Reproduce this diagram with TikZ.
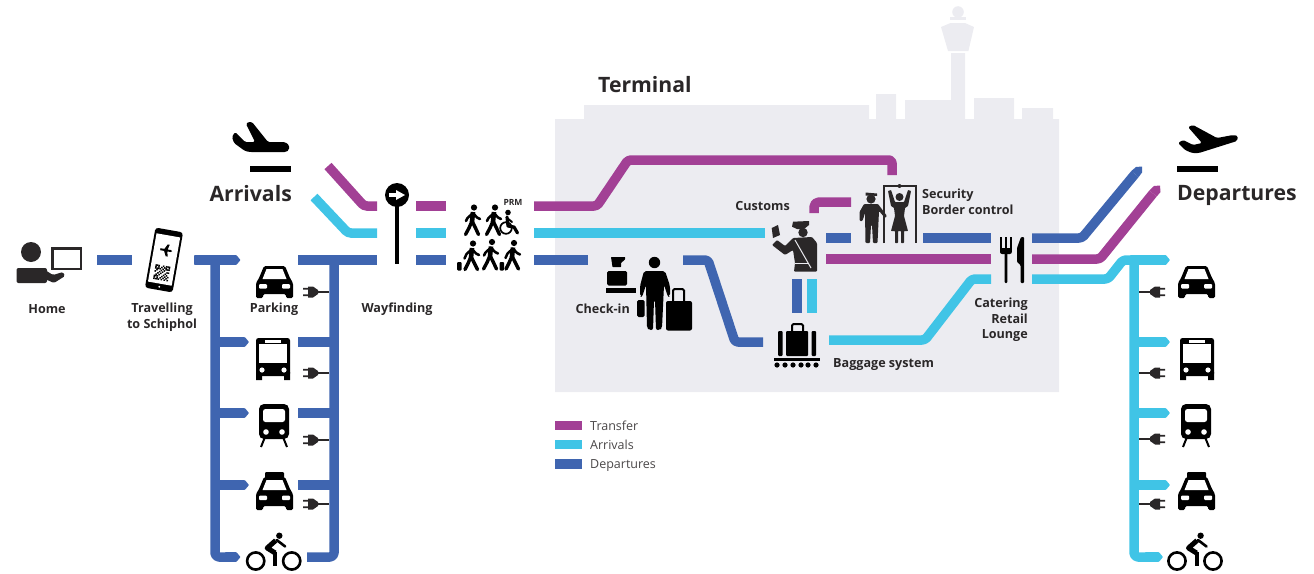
\documentclass[tikz,border=0pt]{standalone}
\usepackage{fontspec}
\setmainfont{Open Sans}
\usetikzlibrary{calc}
\definecolor{cpurple}{HTML}{A24095}
\definecolor{ccyan}{HTML}{40C4E6}
\definecolor{cblue}{HTML}{3F65B0}
\definecolor{cgray}{HTML}{ECECF1}
\definecolor{ctext}{HTML}{2A2728}
\tikzset{
  route/.style={line width=9.5pt,line join=round,rounded corners=3pt},
  pr/.style={route,cpurple}, cy/.style={route,ccyan}, bl/.style={route,cblue},
  lab/.style={font=\bfseries\fontsize{12.6}{15.5}\selectfont,text=ctext,inner sep=0pt,align=center,yshift=-1pt},
  head/.style={font=\bfseries\fontsize{21.2}{26}\selectfont,text=ctext,inner sep=0pt},
  leg/.style={font=\fontsize{12.5}{15}\selectfont,text=ctext!85,inner sep=0pt,anchor=base west},
  limb/.style={line width=3.4pt,line cap=round,line join=round,black},
  pics/car/.style={code={
    \fill[black,rounded corners=1.5pt] (8,0)--(29,0)--(34,12)--(37,17)--(37,32)--(30,32)--(30,28)--(7,28)--(7,32)--(0,32)--(0,17)--(3,12)--cycle;
    \fill[white] (10.5,3)--(26.5,3)--(30.5,13)--(6.5,13)--cycle;
    \fill[white,rounded corners=1pt] (3,18) rectangle (11,22.5) (26,18) rectangle (34,22.5);
  }},
  pics/taxi/.style={code={
    \fill[black,rounded corners=1pt] (9,0) rectangle (28,7);
    \fill[black,rounded corners=1.5pt] (8,5)--(29,5)--(34,17)--(37,22)--(37,38)--(30,38)--(30,34)--(7,34)--(7,38)--(0,38)--(0,22)--(3,17)--cycle;
    \fill[white] (10.5,8)--(26.5,8)--(30.5,18)--(6.5,18)--cycle;
    \fill[white,rounded corners=1pt] (3,23.5) rectangle (11,28) (26,23.5) rectangle (34,28);
  }},
  pics/bus/.style={code={
    \fill[black,rounded corners=2.5pt] (0,0) rectangle (34,38);
    \fill[black] (0,34) rectangle (6,42) (28,34) rectangle (34,42);
    \fill[white] (3,6) rectangle (31,25);
    \fill[white] (9,2) rectangle (25,5);
    \fill[white] (6,32) circle (2.6) (28,32) circle (2.6);
  }},
  pics/tram/.style={code={
    \draw[line width=2pt,black] (6,33)--(2,43) (24,33)--(28,43);
    \fill[black,rounded corners=5pt] (0,0) rectangle (30,35);
    \fill[white,rounded corners=2.5pt] (4,5) rectangle (26,18);
    \fill[white] (7,28) circle (2.8) (23,28) circle (2.8);
  }},
  pics/bike/.style={code={
    \draw[line width=2.6pt,black] (0,0) circle (8.6) (36,0) circle (8.6);
    \fill[black] (23.6,-25.3) circle (3.2);
    \draw[limb,line width=5pt,line cap=butt] (20,-20.5)--(11.5,-13)--(19.5,-8);
    \draw[limb,line width=4pt,line cap=butt] (19.5,-9)--(19.5,5);
    \draw[limb,line width=2.6pt] (21,-21)--(29.5,-14.5);
  }},
  pics/plug/.style={code={
    \draw[line width=2.6pt,ctext] (0,0)--(-14,0);
    \fill[ctext] (-11,-2)--(-16,-5.5)--(-21,-5.5)--(-21,5.5)--(-16,5.5)--(-11,2)--cycle;
    \fill[ctext] (-26,-4.2) rectangle (-20,-2.4) (-26,2.4) rectangle (-20,4.2);
  }},
  pics/walker/.style={code={
    \fill[black] (2,-15.5) circle (3.1);
    \draw[limb,line width=4.6pt,line cap=butt] (1,-11)--(0,-1);
    \draw[limb] (0,-2)--(-3,5)--(-6.5,11.5) (0,-2)--(3.5,5)--(6.5,11.5);
    \draw[limb,line width=2.5pt] (1,-10)--(-4.5,-5)--(-6,-2) (1,-10)--(5,-5.5)--(8,-4);
  }},
  pics/roller/.style={code={
    \fill[black] (2,-14) circle (3.1);
    \draw[limb,line width=4.6pt,line cap=butt] (1,-9.5)--(0,0);
    \draw[limb] (0,-1)--(-3,6)--(-6,12) (0,-1)--(3.5,6)--(6.5,12);
    \draw[limb,line width=2.5pt] (1,-8.5)--(-4.5,-3.5)--(-6.5,1) (1,-8.5)--(5,-4)--(8,-2.5);
  }},
}
\newcommand{\branch}[5]{\fill[#4,rounded corners=.6pt] (#1,#3-4.8)--(#2-4,#3-4.8)--(#2,#3)--(#2-4,#3+4.8)--(#1,#3+4.8)--cycle;}
\begin{document}
\begin{tikzpicture}[x=1pt,y=-1pt]
\useasboundingbox (0,0) rectangle (1314,573);
% terminal
\fill[cgray] (555,119)--(584,119)--(584,105)--(869,105)--(869,119)--(876,119)--(876,94)--(896,94)--(896,119)--(905,119)--(905,100)--(951,100)--(951,53)--(965,53)--(965,119)--(974,119)--(974,98)--(1014,98)--(1014,119)--(1022,119)--(1022,108)--(1053,108)--(1053,119)--(1059,119)--(1059,392)--(555,392)--cycle;
\fill[cgray] (941,27)--(950.5,23)--(965,23)--(974,27)--(968.4,51)--(948,51)--cycle;
\fill[cgray] (950,17) rectangle (966,20);
\fill[cgray] (958,12) circle (5.8);
\node[head,anchor=base west] (terminal) at (598,92.5) {Terminal};

% left section
\node[lab] (home) at (47,308) {Home};
\node[lab] (travel) at (162,316) {Travelling\\to Schiphol};
\node[lab] (parking) at (274,308) {Parking};
\node[lab] (wayf) at (397,308) {Wayfinding};
\draw[bl] (97,260)--(132,260);
% home icon
\fill[ctext] (31,252) circle (10);
\fill[ctext,rounded corners=2pt] (16.5,268) rectangle (47,283);
\fill[ctext,rounded corners=1.5pt] (45,270)--(53,275)--(63,272)--(65,276)--(54,283)--(45,279)--cycle;
\draw[ctext,line width=2.8pt] (52.4,248.4) rectangle (81,269);
% phone
\begin{scope}[shift={(164,260)},rotate=-10]
\fill[black,rounded corners=3pt] (-14,-30.5) rectangle (14,30.5);
\fill[white] (-12,-25) rectangle (12,24);
\fill[white] (0,27.2) circle (1);
\fill[black] (-5.5,-11)--(-1.5,-11)--(1,-16)--(3,-16)--(1.8,-11)--(5,-11)--(6.5,-10)--(5,-9)--(1.8,-9)--(3,-4)--(1,-4)--(-1.5,-9)--(-5.5,-9)--cycle;
\foreach \i/\j in {0/0,1/0,2/0,4/1,5/0,7/0,8/0,9/0,0/1,2/1,3/2,6/1,7/1,9/1,0/2,1/2,2/2,5/2,7/2,8/2,9/2,1/3,4/3,6/3,8/4,0/4,3/4,5/4,9/4,2/5,4/5,7/5,1/6,3/6,6/6,8/6,0/7,1/7,2/7,5/7,7/7,9/7,0/8,2/8,4/8,6/8,8/8,0/9,1/9,2/9,3/9,5/9,7/9,9/9}
  \fill[black] ({-7.5+1.5*\i},{5.5+1.5*\j}) rectangle ++(1.5,1.5);
\end{scope}

% left vertical 1
\branch{194}{240.5}{260}{cblue}{}
\draw[bl,rounded corners=4pt] (215,258)--(215,557)--(230,557);
\branch{215}{249}{342}{cblue}{}
\branch{215}{249}{413}{cblue}{}
\branch{215}{249}{485}{cblue}{}
\branch{225}{240.5}{557}{cblue}{}
% left vertical 2
\draw[bl,rounded corners=0pt] (298,260)--(377,260);
\draw[bl,rounded corners=4pt] (334,258)--(334,557)--(307,557);
\draw[bl,rounded corners=0pt] (298,342)--(334,342) (298,413)--(334,413) (298,485)--(334,485);
\foreach \y in {292,373,440,504} \pic at (329,\y) {plug};
\pic at (256,266) {car};
\pic at (256,338) {bus};
\pic at (259,404) {tram};
\pic at (256,472) {taxi};
\pic at (255.7,561) {bike};

% arrivals
\fill[black,rounded corners=1.5pt] (289,145)--(289,150)--(286,152)--(250,152)--(245,151)--(234,143)--(232,137)--(235,132)--(245,142)--(255,142)--(246,124)--(248,122)--(252,122)--(268,142)--(285,142)--cycle;
\fill[black] (250,166) rectangle (291,172);
\node[head,anchor=base east] (arrivals) at (292,201) {Arrivals};
\draw[pr,line join=miter] (328,166)--(364,206)--(377,206);
\draw[cy,line join=miter] (314,197)--(348,233)--(377,233);
% wayfinding
\draw[line width=3.5pt,black] (397,195)--(397,264);
\fill[black] (397,195) circle (12);
\fill[white] (389,193) rectangle (397,197);
\fill[white] (396,190)--(405,195)--(396,200)--cycle;
% segments
\draw[pr,rounded corners=0pt] (416,206)--(446,206);
\draw[cy,rounded corners=0pt] (416,233)--(446,233);
\draw[bl,rounded corners=0pt] (416,260)--(446,260);
% people
\pic at (472,223) {walker};
\pic at (493,223) {walker};
\node[font=\bfseries\fontsize{8.5}{10}\selectfont,text=ctext,inner sep=0pt] (prm) at (513,202) {PRM};
\fill[black] (508,212.5) circle (2.8);
\draw[line width=1.7pt,black] (506,228) circle (5.8);
\draw[limb,line width=3.2pt] (507,217)--(508,226)--(514,227)--(517.5,233);
\draw[limb,line width=2pt] (507,218)--(512,222);
\pic at (471,257.5) {roller};
\pic at (490,257.5) {walker};
\pic at (512,257) {roller};
\fill[black,rounded corners=1pt] (457,262) rectangle (461.5,270.5);
\fill[black,rounded corners=1pt] (499.5,262) rectangle (504,270.5);

% terminal routes
\draw[pr] (534,206)--(597,206)--(628,160)--(892,160)--(892,175);
\draw[cy,rounded corners=0pt] (534,233)--(765,233);
\draw[bl,rounded corners=0pt] (534,260)--(588,260);
\draw[bl] (683,260)--(708,260)--(735,342)--(763,342);
% check-in
\node[lab,anchor=east] (checkin) at (630,308) {Check-in};
\fill[black,rounded corners=.5pt] (611,257)--(625,257)--(625,259.5)--(621,263)--(621,267)--(612.5,267)--cycle;
\fill[black,rounded corners=1.5pt] (607,271) rectangle (627,285.5);
\fill[black] (606,288) rectangle (636,293);
\fill[black] (654.5,262.5) circle (5.7);
\fill[black,rounded corners=2pt] (644,271)--(665,271)--(670,286)--(670,296)--(668,297)--(664,285)--(662,328)--(660,330)--(656,330)--(655,300)--(654,300)--(653,330)--(649,330)--(647,328)--(646,285)--(642,297)--(640,296)--(640,286)--cycle;
\fill[black,rounded corners=1.5pt] (637,300) rectangle (644.5,317);
\fill[black,rounded corners=2pt] (666,301) rectangle (692,330.5);
\draw[black,line width=2pt,rounded corners=1.5pt] (673,301)--(673,289)--(684,289)--(684,301);

% customs
\node[lab,anchor=east] (customs) at (790,205) {Customs};
\fill[ctext] (771.7,228)--(778,225)--(780,235)--(773,238)--cycle;
\fill[ctext] (793,221.7)--(809,221)--(809,225)--(804,229)--(797,229)--(792,226.7)--cycle;
\fill[ctext] (803,232.5) circle (4.7);
\fill[ctext,rounded corners=1pt] (772,245)--(777,240)--(785,246)--(793,238)--(812,237)--(817,243)--(817,271.7)--(794,271.7)--(795,263)--(793,250)--(785,255)--cycle;
\draw[cgray,line width=1pt] (795,240)--(811,268);
\draw[cgray,line width=1pt] (794.5,263.5)--(808,263.5);
% customs routes
\draw[pr,rounded corners=5pt] (814,213)--(814,202)--(851,202);
\draw[bl,rounded corners=0pt] (826,238)--(851,238);
\draw[bl,rounded corners=0pt] (923,238)--(991,238);
\draw[pr,rounded corners=0pt] (826,259)--(991,259);
\draw[bl,rounded corners=0pt] (797,279)--(797,313);
\draw[cy,rounded corners=0pt] (812,279)--(812,313);
\draw[cy] (829,340)--(925,340)--(972,279)--(991,279);

% security
\fill[ctext] (871,199) circle (4.6);
\fill[ctext] (865.5,192.5)--(877,193.5)--(877,196)--(871,195.5)--(865.5,195.5)--cycle;
\fill[ctext,rounded corners=1pt] (864,204)--(878,204)--(887,216)--(885,218)--(879,211)--(877.5,243)--(873,243)--(872,225)--(871,225)--(870,243)--(865.5,243)--(865,213)--(862.5,221)--(859.5,221)--(859.5,212)--cycle;
\draw[ctext,line width=2.4pt] (884,243)--(884,186)--(916,186)--(916,243);
\fill[ctext] (899.5,197) circle (4);
\fill[ctext] (899.5,186) circle (2);
\fill[ctext,rounded corners=.6pt] (888,191)--(891,190)--(895,202)--(904,202)--(908,190)--(911,191)--(908,206)--(905,208)--(904,216)--(908,231)--(904,231)--(904,243)--(901,243)--(901,231)--(898,231)--(898,243)--(895,243)--(895,231)--(891,231)--(895,216)--(894,208)--(891,206)--cycle;
\node[lab,anchor=west,align=left] (security) at (922,201) {Security\\Border control};

% catering
\fill[black] (1000,237) rectangle (1001.8,250) (1005,237) rectangle (1006.8,250) (1010,237) rectangle (1011.8,250);
\fill[black,rounded corners=2pt] (1000,248) rectangle (1011.8,254);
\fill[black,rounded corners=1pt] (1004.5,250) rectangle (1007.3,283);
\fill[black,rounded corners=1pt] (1021,237)--(1024,237)--(1024,283)--(1020.5,283)--(1020.5,265)--(1017,262)--(1017,248)--cycle;
\node[lab,anchor=east,align=right] (catering) at (1028,319) {Catering\\Retail\\Lounge};

% baggage
\fill[black,rounded corners=1pt] (778,331) rectangle (782.5,356) (786,331) rectangle (808,356) (811.5,331) rectangle (816,356);
\draw[black,line width=2pt,rounded corners=1.5pt] (792,331)--(792,324)--(803,324)--(803,331);
\fill[black] (774,358) rectangle (820,361);
\foreach \x in {777,785,793,801,808,816} \fill[black] (\x,365) circle (2.6);
\node[lab,anchor=west] (baggage) at (833,364) {Baggage system};

% right routes
\draw[bl] (1032,238)--(1082,238)--(1135,174);
\fill[cblue] (1131.3,171)--(1136,167)--(1142,166.5)--(1142,172.5)--(1138.7,177)--cycle;
\draw[pr] (1032,259)--(1100,259)--(1153,193.5);
\fill[cpurple] (1149.3,190.5)--(1154,186)--(1160,185.5)--(1160.5,192)--(1156.7,196.5)--cycle;
\draw[cy] (1032,279)--(1108,279)--(1123,260)--(1166,260);
\branch{1130}{1170}{260}{ccyan}{}
\draw[cy,rounded corners=4pt] (1134,260)--(1134,557)--(1150,557);
\branch{1134}{1170}{342}{ccyan}{}
\branch{1134}{1170}{413}{ccyan}{}
\branch{1134}{1170}{485}{ccyan}{}
\branch{1145}{1163}{557}{ccyan}{}
\foreach \y in {292,373,439,504} \pic[xscale=-1] at (1139,\y) {plug};
\pic at (1178,266) {car};
\pic at (1180,338) {bus};
\pic at (1181,404) {tram};
\pic at (1178,472) {taxi};
\pic at (1177,561) {bike};

% departures
\fill[black,rounded corners=1.5pt] (1233,135)--(1238,136)--(1237,141)--(1199,153)--(1192,153)--(1185,150)--(1178,143)--(1183,140)--(1193,145)--(1202,143)--(1188,127)--(1193,125)--(1217,138)--cycle;
\fill[black] (1177,166) rectangle (1218,172);
\node[head,anchor=base west] (departures) at (1177,200.5) {Departures};

% legend
\fill[cpurple] (555,420.5) rectangle (582,430);
\fill[ccyan] (555,439.5) rectangle (582,449);
\fill[cblue] (555,459) rectangle (582,468.5);
\node[leg] (l1) at (590,430) {Transfer};
\node[leg] (l2) at (590,449) {Arrivals};
\node[leg] (l3) at (590,468.5) {Departures};
\end{tikzpicture}
\end{document}
